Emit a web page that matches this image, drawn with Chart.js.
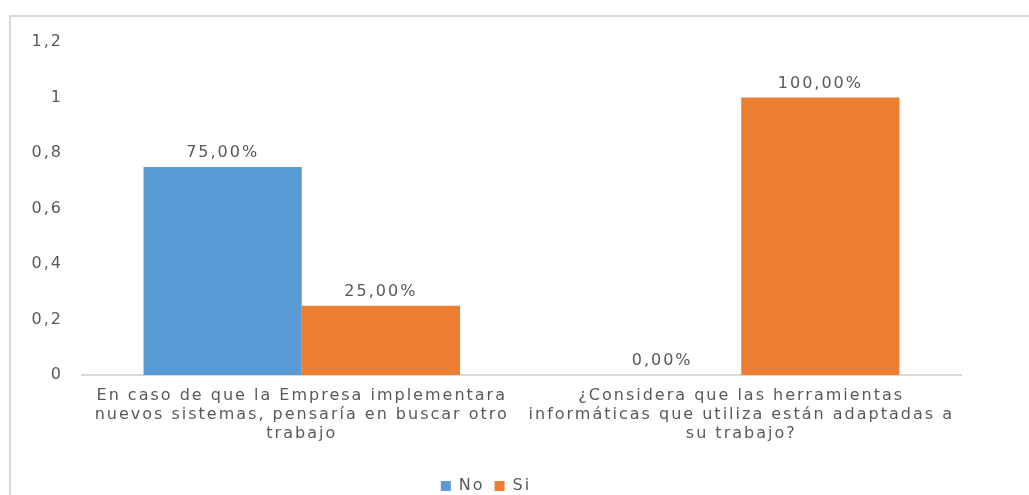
<!DOCTYPE html>
<html>
<head>
<meta charset="utf-8">
<script src="https://cdn.jsdelivr.net/npm/chart.js@4"></script>
<style>
  html, body { margin: 0; padding: 0; background: #fff; overflow: hidden; width: 1029px; height: 495px; }
  #marco {
    position: absolute; left: 9px; top: 15px; width: 1100px; height: 500px;
    border-left: 2px solid #d9d9d9; border-top: 2px solid #d9d9d9;
  }
  #graficoEncuesta { position: absolute; left: 11px; top: 9px; display: block; }
</style>
</head>
<body>
<div id="marco"></div>
<canvas id="graficoEncuesta" width="1020" height="495"></canvas>
<script>
  const preguntas = [
    ["En caso de que la Empresa implementara", "nuevos sistemas, pensaría en buscar otro", "trabajo"],
    ["¿Considera que las herramientas", "informáticas que utiliza están adaptadas a", "su trabajo?"]
  ];
  const respuestasNo = [0.75, 0];
  const respuestasSi = [0.25, 1];
  const ticksEje = [0, 0.2, 0.4, 0.6, 0.8, 1, 1.2];

  const gris = "#595959";
  const fuente = "'DejaVu Sans', sans-serif";

  const coma = v => String(+v.toFixed(2)).replace(".", ",");
  const porcentaje = v => (v * 100).toFixed(2).replace(".", ",") + "%";

  // espaciado entre letras, hay que volver a ponerlo tras cada redimensionado
  const espaciado = {
    id: "espaciado",
    beforeUpdate(chart) { chart.ctx.letterSpacing = "2px"; },
    beforeDraw(chart) { chart.ctx.letterSpacing = "2px"; }
  };

  // etiquetas de valor encima de cada barra
  const etiquetas = {
    id: "etiquetas",
    afterDatasetsDraw(chart) {
      const ctx = chart.ctx;
      ctx.save();
      ctx.font = "16px " + fuente;
      ctx.fillStyle = gris;
      ctx.textAlign = "center";
      ctx.textBaseline = "bottom";
      chart.data.datasets.forEach((ds, i) => {
        chart.getDatasetMeta(i).data.forEach((bar, j) => {
          ctx.fillText(porcentaje(ds.data[j]), bar.x, bar.y - 6);
        });
      });
      ctx.restore();
    }
  };

  new Chart(document.getElementById("graficoEncuesta").getContext("2d"), {
    type: "bar",
    data: {
      labels: preguntas,
      datasets: [
        { label: "No", data: respuestasNo, backgroundColor: "#5b9bd5", barPercentage: 1, categoryPercentage: 0.72 },
        { label: "Si", data: respuestasSi, backgroundColor: "#ed7d31", barPercentage: 1, categoryPercentage: 0.72 }
      ]
    },
    options: {
      responsive: false,
      animation: false,
      layout: { padding: { top: 33, right: 70, left: 0, bottom: 0 } },
      scales: {
        x: {
          grid: { display: false },
          border: { color: "#d9d9d9", width: 2 },
          ticks: { color: gris, font: { family: fuente, size: 16, lineHeight: 1.2 }, maxRotation: 0, autoSkip: false, padding: 3 },
          afterFit(s) { s.height = 93; }
        },
        y: {
          min: 0, max: 1.2,
          grid: { display: false },
          border: { display: false },
          afterBuildTicks(s) { s.ticks = ticksEje.map(v => ({ value: v })); },
          ticks: { color: gris, font: { family: fuente, size: 16 }, padding: 11, callback: v => coma(v) },
          afterFit(s) { s.width = 71; }
        }
      },
      plugins: {
        legend: {
          position: "bottom",
          labels: { color: gris, font: { family: fuente, size: 16 }, boxWidth: 10, boxHeight: 10, padding: 10 }
        },
        tooltip: { enabled: false }
      }
    },
    plugins: [espaciado, etiquetas]
  });
</script>
</body>
</html>
